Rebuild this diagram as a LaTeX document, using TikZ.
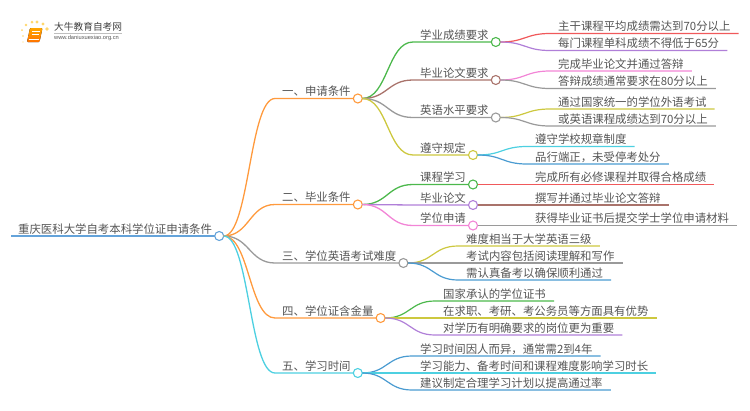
\documentclass[tikz,border=0pt]{standalone}
\usepackage{fontspec}
\setmainfont{Noto Sans CJK SC}
\newfontfamily\latinfont{Liberation Sans}
\usetikzlibrary{calc}
\definecolor{lineblue}{HTML}{64A3DA}
\definecolor{lineorange}{HTML}{FF9A3D}
\definecolor{linegrey}{HTML}{9A9A9A}
\definecolor{linecyan}{HTML}{4DD0E1}
\definecolor{linegreen}{HTML}{4CB84C}
\definecolor{linebrown}{HTML}{A9736B}
\definecolor{lineyellow}{HTML}{CDC83F}
\definecolor{linepurple}{HTML}{B07FD8}
\definecolor{linepink}{HTML}{F285D6}
\definecolor{linered}{HTML}{F0595B}
\definecolor{linesky}{HTML}{4A9BD1}
\definecolor{textgrey}{HTML}{555555}
\definecolor{logoyellow}{HTML}{FFD76E}
\tikzset{
  lab/.style={anchor=south west,inner xsep=7pt,inner ysep=1.5pt,font=\fontsize{11.4pt}{12pt}\selectfont,text=textgrey},
  leaf/.style={lab,inner xsep=8pt},
  dot/.style={circle,fill=white,line width=1.1pt,minimum size=9pt,inner sep=0pt,outer sep=0pt},
  logodot/.style={circle,fill=logoyellow,inner sep=0pt},
}
\begin{document}
\begin{tikzpicture}[x=1pt,y=-1pt]
\useasboundingbox (0,0) rectangle (750,410);
% logo
\foreach \i/\a/\b/\s in {1/22/30/2pt,2/26/25/2.6pt,3/32/22/3pt,4/37/22/3.4pt,5/43/24/3.2pt,6/47/29/3.6pt,7/23/36/1.6pt,8/23/42/1.2pt}
\node[logodot,minimum size=\s] (logo\i) at (\a,\b) {};
\fill[rounded corners=1pt,top color=orange!70!yellow,bottom color=orange!90!red] (30,28) -- (42.5,28) -- (39.5,42) -- (27,42) -- cycle;
\draw[white,line width=.6pt] (32,31.5) -- (39.5,31.5) (31.5,34) -- (39,34);
\draw[white,line width=.5pt] (28.5,39.5) -- (38.5,39.5);
\node[anchor=west,inner sep=0pt,font=\fontsize{9.7pt}{10pt}\selectfont,text=black!75] (logotitle) at (54,27) {大牛教育自考网};
\node[anchor=west,inner sep=0pt,font=\latinfont\fontsize{5.7pt}{6pt}\selectfont,text=textgrey] (logourl) at (54,38.5) {www.daniuxuexiao.org.cn};
\draw[black!25,line width=.4pt] (logotitle.south west)++(0,1) -- ($(logotitle.south east)+(0,1)$);
% root
\node[lab] (root) at (11,236) {重庆医科大学自考本科学位证申请条件};
\draw[lineblue,line width=2pt] (root.south west) -- (root.south east);
\node[dot,draw=lineblue] (rootc) at (root.south east) {};
% branches
\foreach \n/\from/\col/\x/\y/\t in {
  a/rootc/lineorange/275/98.5/一、申请条件,
  b/rootc/lineorange/275/204.5/二、毕业条件,
  c/rootc/linegrey/275/263/三、学位英语考试难度,
  d/rootc/lineorange/275/318/四、学位证含金量,
  e/rootc/linecyan/275/373/五、学习时间,
  a1/ac/linegreen/413/42/学业成绩要求,
  a2/ac/linebrown/413/80/毕业论文要求,
  a3/ac/linegrey/413/117.5/英语水平要求,
  a4/ac/lineyellow/413/155/遵守规定,
  b1/bc/linegreen/413/184.5/课程学习,
  b2/bc/linepurple/413/205/毕业论文,
  b3/bc/linepink/413/225.5/学位申请
}{
  \node[lab] (\n) at (\x,\y) {\t};
  \coordinate (mid) at ($(\from.east)!.5!(\n.south west)$);
  \draw[\col,line width=1.3pt] (\from.east) .. controls (mid|-\from.east) and (mid|-\n.south west) .. (\n.south west) -- (\n.south east);
  \node[dot,draw=\col] (\n c) at (\n.south east) {};
}
% leaves
\foreach \n/\from/\col/\x/\y/\t in {
  l1/a1c/linered/550/33.5/主干课程平均成绩需达到70分以上,
  l2/a1c/linepurple/550/50.5/每门课程单科成绩不得低于65分,
  l3/a2c/linepink/550/71/完成毕业论文并通过答辩,
  l4/a2c/linegrey/550/88.5/答辩成绩通常要求在80分以上,
  l5/a3c/lineyellow/550/109/通过国家统一的学位外语考试,
  l6/a3c/linegrey/550/126/或英语课程成绩达到70分以上,
  l7/a4c/linecyan/527/146.5/遵守学校规章制度,
  l8/a4c/linesky/527/164/品行端正，未受停考处分,
  l9/b1c/linered/527/184.5/完成所有必修课程并取得合格成绩,
  l10/b2c/linebrown/527/205/撰写并通过毕业论文答辩,
  l11/b3c/linegrey/527/225.5/获得毕业证书后提交学士学位申请材料,
  l12/cc/lineyellow/458/246/难度相当于大学英语三级,
  l13/cc/linegrey/458/263/考试内容包括阅读理解和写作,
  l14/cc/linesky/458/280/需认真备考以确保顺利通过,
  l15/dc/linegreen/435/301/国家承认的学位证书,
  l16/dc/lineyellow/435/318/在求职、考研、考公务员等方面具有优势,
  l17/dc/linepurple/435/335/对学历有明确要求的岗位更为重要,
  l18/ec/linesky/412/356/学习时间因人而异，通常需2到4年,
  l19/ec/linecyan/412/373/学习能力、备考时间和课程难度影响学习时长,
  l20/ec/linesky/412/390/建议制定合理学习计划以提高通过率
}{
  \node[leaf] (\n) at (\x,\y) {\t};
  \coordinate (mid) at ($(\from.east)!.5!(\n.south west)$);
  \draw[\col,line width=1.2pt] (\from.east) .. controls (mid|-\from.east) and (mid|-\n.south west) .. (\n.south west) -- (\n.south east);
}
\end{tikzpicture}
\end{document}
